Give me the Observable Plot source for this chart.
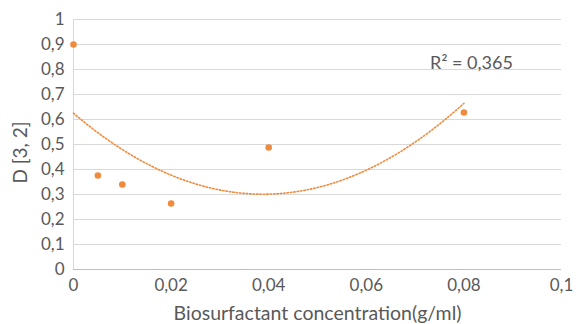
<!DOCTYPE html>
<html>
<head>
<meta charset="utf-8">
<script src="https://cdn.jsdelivr.net/npm/d3@7"></script>
<script src="https://cdn.jsdelivr.net/npm/@observablehq/plot@0.6"></script>
<style>
  html, body { margin: 0; padding: 0; background: #fff; }
  #chart svg { display: block; }
</style>
</head>
<body>
<div id="chart"></div>
<script>
// Data
const concentration = [0, 0.005, 0.01, 0.02, 0.04, 0.08];
const d32 = [0.9, 0.376, 0.34, 0.264, 0.488, 0.628];
const xTicks = [0, 0.02, 0.04, 0.06, 0.08, 0.1];
const yTicks = [0, 0.1, 0.2, 0.3, 0.4, 0.5, 0.6, 0.7, 0.8, 0.9, 1];
const r2Label = "R² = 0,365";
const xTitle = "Biosurfactant concentration(g/ml)";
const yTitle = "D [3, 2]";

const points = concentration.map((x, i) => ({x, y: d32[i]}));

// Polynomial (order 2) least-squares trendline computed from the data
function quadFit(xs, ys) {
  const S = k => d3.sum(xs, x => x ** k);
  const T = k => d3.sum(xs.map((x, i) => ys[i] * x ** k));
  const A = [[S(0), S(1), S(2)], [S(1), S(2), S(3)], [S(2), S(3), S(4)]];
  const b = [T(0), T(1), T(2)];
  const n = 3;
  for (let i = 0; i < n; i++) {
    let p = i;
    for (let r = i + 1; r < n; r++) if (Math.abs(A[r][i]) > Math.abs(A[p][i])) p = r;
    [A[i], A[p]] = [A[p], A[i]]; [b[i], b[p]] = [b[p], b[i]];
    for (let r = i + 1; r < n; r++) {
      const f = A[r][i] / A[i][i];
      for (let c = i; c < n; c++) A[r][c] -= f * A[i][c];
      b[r] -= f * b[i];
    }
  }
  const c = [0, 0, 0];
  for (let i = n - 1; i >= 0; i--) {
    let s = b[i];
    for (let j = i + 1; j < n; j++) s -= A[i][j] * c[j];
    c[i] = s / A[i][i];
  }
  return c;
}
const coef = quadFit(concentration, d32);
const xMin = d3.min(concentration), xMax = d3.max(concentration);
const trend = d3.range(0, 101).map(i => {
  const x = xMin + (xMax - xMin) * i / 100;
  return {x, y: coef[0] + coef[1] * x + coef[2] * x * x};
});

const fmt = d => String(+d.toFixed(2)).replace(".", ",");
const orange = "#F08A3C";
const grey = "#595959";

const chart = Plot.plot({
  width: 576,
  height: 324,
  marginLeft: 73,
  marginRight: 15,
  marginTop: 19,
  marginBottom: 55,
  style: {fontFamily: "Lato, 'Open Sans', sans-serif", fontSize: "17px", color: grey, background: "#fff"},
  x: {domain: [0, 0.1]},
  y: {domain: [0, 1]},
  marks: [
    Plot.gridY(yTicks, {stroke: "#d9d9d9", strokeOpacity: 1, strokeWidth: 1}),
    Plot.ruleX([0], {stroke: "#d9d9d9", strokeWidth: 1}),
    Plot.ruleY([0], {stroke: "#bfbfbf", strokeWidth: 1}),
    Plot.axisX({ticks: xTicks, tickFormat: fmt, tickSize: 0, tickPadding: 9, fontSize: 17, label: null}),
    Plot.axisY({ticks: yTicks, tickFormat: fmt, tickSize: 0, tickPadding: 9, fontSize: 17, label: null}),
    Plot.line(trend, {x: "x", y: "y", stroke: orange, strokeWidth: 1.6, strokeDasharray: "1.4,2"}),
    Plot.dot(points, {x: "x", y: "y", r: 3.3, fill: orange, stroke: "none"}),
    Plot.text([r2Label], {frameAnchor: "top-right", dx: -90, dy: 37, fill: grey, fontSize: 18, textAnchor: "middle"}),
    Plot.text([xTitle], {frameAnchor: "bottom", lineAnchor: "middle", dy: 44, fill: grey, fontSize: 19.5}),
    Plot.text([yTitle], {frameAnchor: "left", textAnchor: "middle", lineAnchor: "middle", dx: -53, dy: 8, rotate: -90, fill: grey, fontSize: 19})
  ]
});
document.getElementById("chart").appendChild(chart);
</script>
</body>
</html>
